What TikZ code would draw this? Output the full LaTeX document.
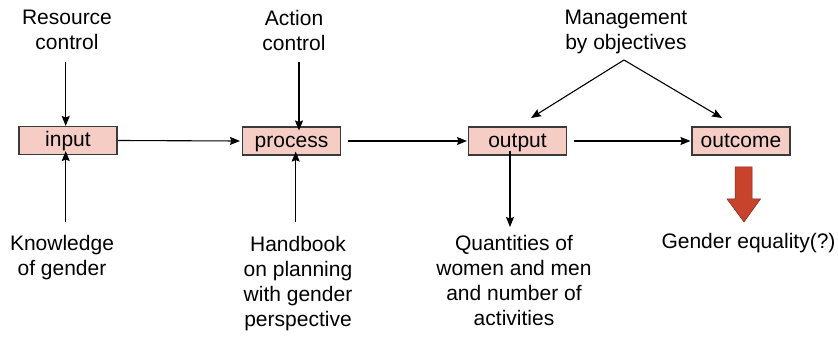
\documentclass[tikz,border=0pt]{standalone}
\usepackage{fontspec}
\setmainfont{Liberation Sans}
\usetikzlibrary{arrows.meta}
\definecolor{boxfill}{HTML}{F5CDC5}
\definecolor{boxline}{HTML}{3A3A3A}
\definecolor{redarrow}{HTML}{C8432B}
\definecolor{redline}{HTML}{7A2A1A}
\tikzset{
  stagebox/.style={draw=boxline, fill=boxfill, line width=1.1pt, minimum width=98pt, minimum height=28pt, inner sep=0pt, text height=17pt, text depth=4pt, font=\fontsize{21}{25}\selectfont},
  lbl/.style={inner sep=0pt, align=center, font=\fontsize{21}{25}\selectfont, anchor=north},
  arr/.style={line width=1.1pt, -{Stealth[length=10pt,width=8pt,inset=1.5pt]}}
}
\begin{document}
\begin{tikzpicture}[x=1pt,y=-1pt]
\useasboundingbox (0,0) rectangle (838,339);
\node[stagebox] (input) at (68,140.5) {input};
\node[stagebox] (process) at (291.5,141) {process};
\node[stagebox] (output) at (517.5,141) {output};
\node[stagebox] (outcome) at (741,141) {outcome};

\node[lbl] (rc) at (67,10) {Resource\\control};
\node[lbl] (ac) at (294,10) {Action\\control};
\node[lbl] (mbo) at (626,10) {Management\\by objectives};
\node[lbl] (kg) at (62,235) {Knowledge\\of gender};
\node[lbl] (hb) at (298,236) {Handbook\\on planning\\with gender\\perspective};
\node[lbl] (qt) at (514,235) {Quantities of\\women and men\\and number of\\activities};
\node[lbl] (ge) at (748.5,233) {Gender equality(?)};

\coordinate (rcs) at (65.7,62);
\coordinate (acs) at (299,62);
\coordinate (kgs) at (65.7,222);
\coordinate (hbs) at (295.7,222);
\coordinate (mboa) at (624,60);
\coordinate (qte) at (510,227);

\draw[arr] (rcs) -- (rcs |- input.north);
\draw[arr] (acs) -- ([yshift=-4pt]acs |- process.north);
\draw[arr] (kgs) -- ([yshift=4pt]kgs |- input.south);
\draw[arr] (hbs) -- ([yshift=4pt]hbs |- process.south);
\draw[arr] (mboa) -- (531,118);
\draw[arr] (mboa) -- (722,118);
\draw[arr] (input.east) -- ([xshift=-2pt]process.west);
\draw[arr] ([xshift=7pt]process.east) -- ([xshift=-1pt]output.west);
\draw[arr] ([xshift=7pt]output.east) -- ([xshift=-1pt]outcome.west);
\draw[arr] ([yshift=5pt]qte |- output.south) -- (qte);

\draw[redline, fill=redarrow, line width=0.5pt]
  (735,167) -- (752,167) -- (752,199) -- (760.5,199) -- (744,222) -- (727,199) -- (735,199) -- cycle;
\end{tikzpicture}
\end{document}
